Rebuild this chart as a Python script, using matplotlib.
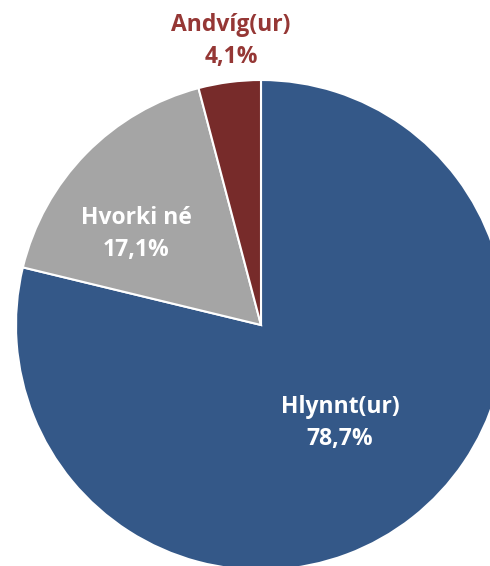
import matplotlib
matplotlib.use("Agg")
import matplotlib.pyplot as plt

labels = ["Hlynnt(ur)", "Hvorki né", "Andvíg(ur)"]
values = [78.7, 17.1, 4.1]
colors = ["#345888", "#A5A5A5", "#772B2A"]

plt.rcParams["font.family"] = ["Open Sans", "DejaVu Sans"]

W, H = 490, 566
cx, cy, r = 261, 325, 245

fig = plt.figure(figsize=(W / 100, H / 100), dpi=100)
ax = fig.add_axes([0, 0, 1, 1])
ax.pie(values, colors=colors, startangle=90, counterclock=False,
       radius=1, center=(0, 0),
       wedgeprops=dict(edgecolor="white", linewidth=1.5))
ax.set_xlim(-cx / r, (W - cx) / r)
ax.set_ylim(-(H - cy) / r, cy / r)
ax.set_aspect("equal")
ax.axis("off")


def px(x, y):
    return (x - cx) / r, (cy - y) / r


fmt = lambda v: f"{v:.1f}".replace(".", ",") + "%"

kw = dict(fontsize=16.5, fontweight="bold", ha="center", va="center", linespacing=1.45)
ax.text(*px(340, 423), f"{labels[0]}\n{fmt(values[0])}", color="white", **kw)
ax.text(*px(136, 234), f"{labels[1]}\n{fmt(values[1])}", color="white", **kw)
ax.text(*px(231, 41), f"{labels[2]}\n{fmt(values[2])}", color="#953735",
        clip_on=False, **kw)

fig.savefig("out.png", dpi=100)
